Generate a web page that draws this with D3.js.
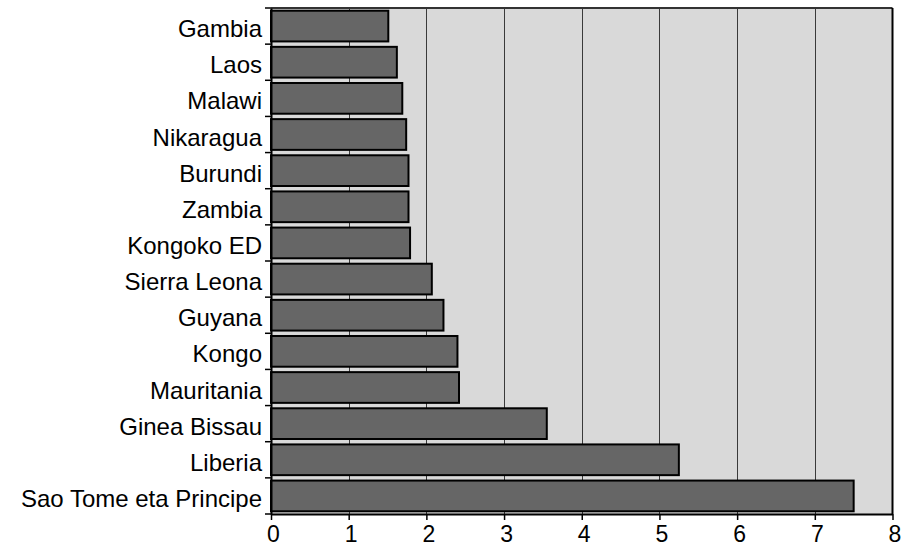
<!DOCTYPE html>
<html>
<head>
<meta charset="utf-8">
<script src="https://cdn.jsdelivr.net/npm/d3@7"></script>
<style>
  body { margin: 0; background: #fff; }
  svg { display: block; font-family: "Liberation Sans", Arial, sans-serif; }
  .tick text { font-size: 24px; fill: #000; }
  .x-axis .tick text { font-size: 23px; }
</style>
</head>
<body>
<svg id="chart" width="903" height="550"></svg>
<script>
const countries = [
  'Gambia', 'Laos', 'Malawi', 'Nikaragua', 'Burundi', 'Zambia', 'Kongoko ED',
  'Sierra Leona', 'Guyana', 'Kongo', 'Mauritania', 'Ginea Bissau', 'Liberia',
  'Sao Tome eta Principe'
];
const values = [1.51, 1.62, 1.69, 1.74, 1.77, 1.77, 1.79, 2.07, 2.22, 2.40, 2.42, 3.55, 5.25, 7.50];
const xTicks = [0, 1, 2, 3, 4, 5, 6, 7, 8];

const data = countries.map((name, i) => ({ name, value: values[i] }));

const svg = d3.select('#chart');
const width = 903;
const height = 550;
const margin = { top: 8, right: 10.5, bottom: 36, left: 271 };
const innerW = width - margin.left - margin.right;
const innerH = height - margin.top - margin.bottom;

const x = d3.scaleLinear().domain([0, 8]).range([0, innerW]);
const y = d3.scaleBand()
  .domain(countries)
  .range([0, innerH])
  .paddingInner(0.15)
  .paddingOuter(0.075);

const g = svg.append('g').attr('transform', `translate(${margin.left},${margin.top})`);

// plot background
g.append('rect')
  .attr('width', innerW)
  .attr('height', innerH)
  .attr('fill', '#d9d9d9');

// vertical grid
g.append('g')
  .selectAll('line')
  .data(xTicks.slice(1, -1))
  .join('line')
  .attr('x1', d => Math.round(x(d)) + 0.5)
  .attr('x2', d => Math.round(x(d)) + 0.5)
  .attr('y1', 0)
  .attr('y2', innerH)
  .attr('stroke', '#3a3a3a')
  .attr('stroke-width', 1);

// top and right frame
g.append('line')
  .attr('x1', 0).attr('x2', innerW)
  .attr('y1', 0).attr('y2', 0)
  .attr('stroke', '#333').attr('stroke-width', 2);
g.append('line')
  .attr('x1', innerW).attr('x2', innerW)
  .attr('y1', 0).attr('y2', innerH)
  .attr('stroke', '#000').attr('stroke-width', 2);

// bars
g.append('g')
  .selectAll('rect')
  .data(data)
  .join('rect')
  .attr('x', x(0))
  .attr('y', d => y(d.name))
  .attr('width', d => x(d.value) - x(0))
  .attr('height', y.bandwidth())
  .attr('fill', '#666666')
  .attr('stroke', '#000')
  .attr('stroke-width', 2);

// axes
const yAxis = g.append('g')
  .call(d3.axisLeft(y).tickSizeOuter(0).tickSize(0).tickPadding(9));
yAxis.select('.domain').attr('stroke', '#000').attr('stroke-width', 2);
yAxis.selectAll('.tick text').attr('dy', '0.46em');

// left tick marks sit at band boundaries
const bounds = countries.map(c => y(c) - y.step() * y.paddingInner() / 2);
bounds.push(innerH);
g.append('g')
  .selectAll('line')
  .data(bounds)
  .join('line')
  .attr('x1', -6).attr('x2', 0)
  .attr('y1', d => d).attr('y2', d => d)
  .attr('stroke', '#000')
  .attr('stroke-width', 1.5);

const xAxis = g.append('g')
  .attr('class', 'x-axis')
  .attr('transform', `translate(0,${innerH})`)
  .call(d3.axisBottom(x).tickValues(xTicks).tickFormat(d3.format('d')).tickSize(6).tickSizeOuter(0).tickPadding(6));
xAxis.select('.domain').attr('stroke', '#000').attr('stroke-width', 2);
xAxis.selectAll('.tick line').attr('stroke', '#000').attr('stroke-width', 1.5);
xAxis.selectAll('.tick text').attr('dx', '2');
</script>
</body>
</html>
